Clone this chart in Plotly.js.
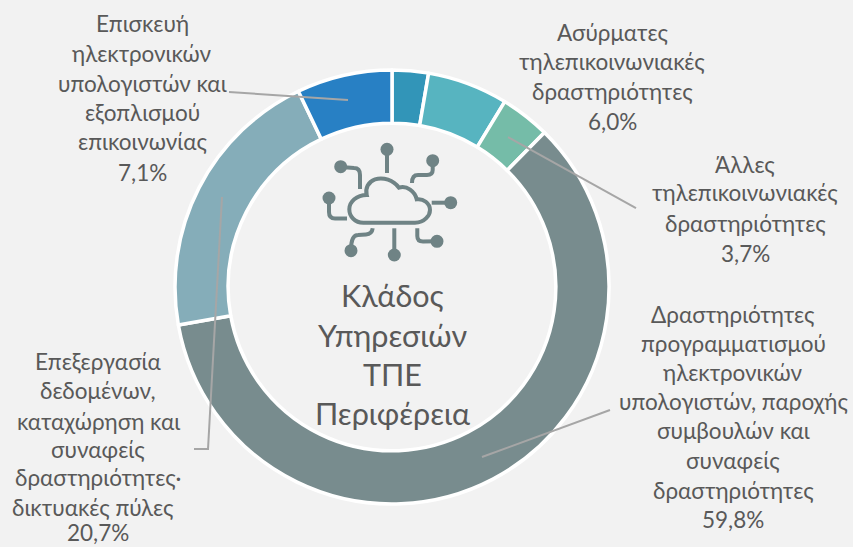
<!DOCTYPE html>
<html><head><meta charset="utf-8">
<script src="https://cdn.plot.ly/plotly-3.0.1.min.js"></script>
<style>html,body{margin:0;padding:0;background:#f2f2f2}</style></head>
<body><div id="chart" style="width:853px;height:547px"></div>
<script>
const categories = ["Ασύρματες άλλες","Ασύρματες τηλεπικοινωνιακές δραστηριότητες","Άλλες τηλεπικοινωνιακές δραστηριότητες","Δραστηριότητες προγραμματισμού","Επεξεργασία δεδομένων","Επισκευή ηλεκτρονικών υπολογιστών"];
const values = [2.7,6.0,3.7,59.8,20.7,7.1];
const colors = ["#3295b8","#57b4c0","#75bca8","#788c8e","#85adb9","#2880c4"];
const labelBlocks = [
 {cx:142,ys:[24,53,83,112,142,172],lines:["Επισκευή","ηλεκτρονικών","υπολογιστών και","εξοπλισμού","επικοινωνίας","7,1%"]},
 {cx:612,ys:[33,62,92,122],lines:["Ασύρματες","τηλεπικοινωνιακές","δραστηριότητες","6,0%"]},
 {cx:745,ys:[164,193,223,253],lines:["Άλλες","τηλεπικοινωνιακές","δραστηριότητες","3,7%"]},
 {cx:733,ys:[314,343,372,401,430,460,490,519],lines:["Δραστηριότητες","προγραμματισμού","ηλεκτρονικών","υπολογιστών, παροχής","συμβουλών και","συναφείς","δραστηριότητες","59,8%"]},
 {cx:98,ys:[361,390,421,449,478,532],lines:["Επεξεργασία","δεδομένων,","καταχώρηση και","συναφείς","δραστηριότητες·","20,7%"]},
 {cx:93,ys:[507],lines:["δικτυακές πύλες"]}
];
const centerLines = ["Κλάδος","Υπηρεσιών","ΤΠΕ","Περιφέρεια"];
const centerYs = [295,335,374,413];

const W=853,H=547;
const px=x=>x/W, py=y=>1-y/H;
const FONT="Lato, 'Noto Sans', sans-serif";
const annotations=[];
labelBlocks.forEach(b=>b.lines.forEach((t,i)=>annotations.push({text:t,xref:'paper',yref:'paper',x:px(b.cx),y:py(b.ys[i]),xanchor:'center',yanchor:'middle',showarrow:false,font:{family:FONT,size:22.5,color:'#595959'}})));
centerLines.forEach((t,i)=>annotations.push({text:t,xref:'paper',yref:'paper',x:px(392),y:py(centerYs[i]),xanchor:'center',yanchor:'middle',showarrow:false,font:{family:FONT,size:30.5,color:'#595959'}}));

const toPaper=d=>{let isX=true;return d.replace(/-?\d+(\.\d+)?/g,n=>{const v=+n;const r=isX?px(v):py(v);isX=!isX;return r.toFixed(5);});};
const shapes=[];
const leaderPaths=["M229 92 L348 100","M636 208 L508 137","M610 410 L482 457","M194 449 L208 449 L222 197"];
leaderPaths.forEach(p=>shapes.push({type:'path',xref:'paper',yref:'paper',path:toPaper(p),line:{color:'#a6a6a6',width:2}}));
const iconColor='#6f8385';
const iconPaths=[
 "M387 149 L387 173",
 "M432.7 161 L432.7 170 Q432.7 175 427 175 L418 175 Q412 175 412 183",
 "M341 167 L354 168 Q360 168 360 175 L360 189",
 "M329 198 L329 212 Q329 218.5 335 218.5 L347 218.5",
 "M431.7 202.7 L450 202.7",
 "M417.3 228.3 L417.3 236 Q417.3 241.5 423 241.5 L437 241.3",
 "M394.3 228.3 L394.3 255",
 "M372.7 228.3 Q372 234 366 234.5 L358 235 Q351 235 351 250",
 "M363.3 222.7 L415 222.7 C425 222.7 430 215 430 210 C430 203.3 423.3 198.3 416.7 199.3 C415 191.7 406.7 185 399 187.7 C393.3 180 383.3 176.7 375 179.3 C368.3 181.7 365 188.3 366.7 195 C356.7 195 349.3 201.7 349.3 209.3 C349.3 216.7 355 222.7 363.3 222.7 Z"
];
iconPaths.forEach(p=>shapes.push({type:'path',xref:'paper',yref:'paper',path:toPaper(p),line:{color:iconColor,width:4}}));
const iconDots=[[387,149.3],[432.7,160.7],[340.7,166.7],[329,198],[450.7,202.7],[437,241.3],[351,250.7],[394.3,255]];
iconDots.forEach(([x,y])=>shapes.push({type:'circle',xref:'paper',yref:'paper',x0:px(x-6.5),x1:px(x+6.5),y0:py(y+6.5),y1:py(y-6.5),fillcolor:iconColor,line:{width:0}}));

Plotly.newPlot('chart',[{type:'pie',labels:categories,values:values,hole:0.755,sort:false,direction:'clockwise',rotation:0,textinfo:'none',hoverinfo:'label+percent',
 marker:{colors:colors,line:{color:'#ffffff',width:3.5}},domain:{x:[px(175),px(609)],y:[py(504),py(70)]}}],
 {width:W,height:H,margin:{l:0,r:0,t:0,b:0},paper_bgcolor:'#f2f2f2',showlegend:false,annotations:annotations,shapes:shapes},{displayModeBar:false,responsive:false});
</script></body></html>
